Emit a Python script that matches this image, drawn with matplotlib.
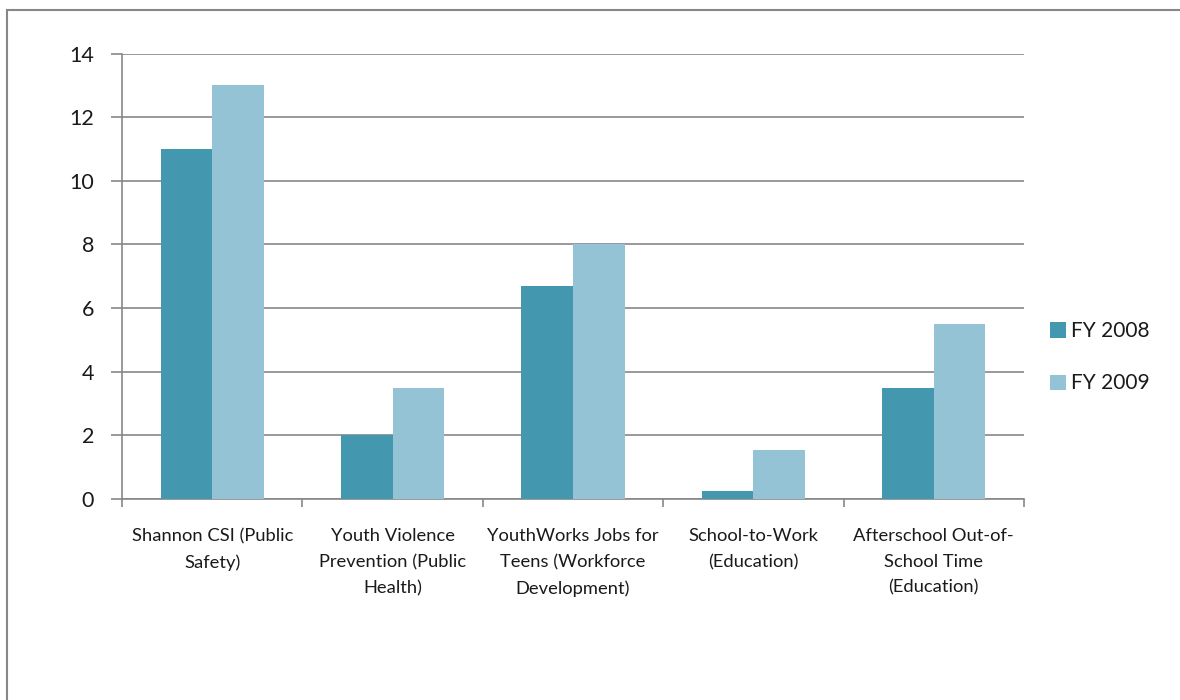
import matplotlib.pyplot as plt
import matplotlib.patches as mpatches
import numpy as np

categories = ['Shannon CSI (Public\nSafety)',
              'Youth Violence\nPrevention (Public\nHealth)',
              'YouthWorks Jobs for\nTeens (Workforce\nDevelopment)',
              'School-to-Work\n(Education)',
              'Afterschool Out-of-\nSchool Time\n(Education)']
fy2008 = [11.0, 2.0, 6.7, 0.25, 3.5]
fy2009 = [13.0, 3.5, 8.0, 1.55, 5.5]
series_names = ['FY 2008', 'FY 2009']

plt.rcParams['font.family'] = ['Lato', 'DejaVu Sans']
grey = '#878787'

fig = plt.figure(figsize=(11.8, 7.0), dpi=100)
ax = fig.add_axes([122 / 1180, 1 - 499 / 700, (1024 - 122) / 1180, (499 - 53.5) / 700])

x = np.arange(len(categories))
w = 1 / 3.5
ax.bar(x - w / 2, fy2008, w, color='#4398AF', label=series_names[0], zorder=3)
ax.bar(x + w / 2, fy2009, w, color='#93C3D4', label=series_names[1], zorder=3)

ax.set_xlim(-0.5, len(categories) - 0.5)
ax.set_ylim(0, 14)
ax.set_yticks(range(0, 15, 2))
ax.yaxis.grid(True, color=grey, lw=1.2, zorder=0)
ax.set_axisbelow(True)

ax.set_xticks(x)
ax.set_xticklabels(categories, fontsize=13.2, linespacing=1.75, color='#1a1a1a')
ax.set_xticks(np.arange(-0.5, len(categories)), minor=True)
ax.tick_params(axis='x', which='major', length=0, pad=21)
ax.tick_params(axis='x', which='minor', length=6, width=1.2, color=grey)
ax.tick_params(axis='y', length=8, width=1.2, color=grey, labelsize=15.5, pad=12,
               labelcolor='#1a1a1a')

for s in ['top', 'right']:
    ax.spines[s].set_visible(False)
for s in ['left', 'bottom']:
    ax.spines[s].set_color(grey)
    ax.spines[s].set_linewidth(1.2)

leg = ax.legend(loc='center left', bbox_to_anchor=(1.008, 0.318), frameon=False,
                fontsize=15, handlelength=0.75, handleheight=0.75, handletextpad=0.25,
                labelspacing=1.55)
for t in leg.get_texts():
    t.set_color('#1a1a1a')

fig.patches.append(mpatches.Rectangle((7 / 1180, -0.1), 2, 1.1 - 10 / 700, fill=False,
                                      edgecolor=grey, lw=1.5, transform=fig.transFigure))

fig.savefig('out.png', dpi=100)
